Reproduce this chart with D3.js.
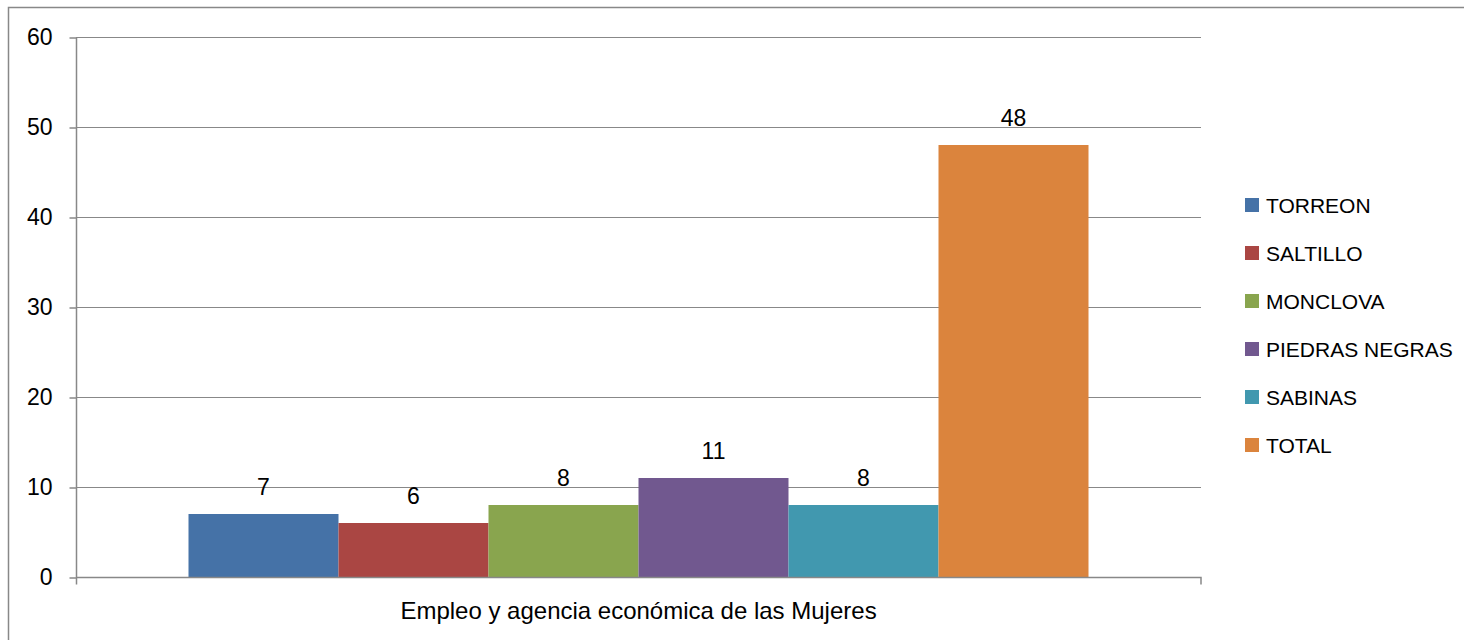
<!DOCTYPE html>
<html>
<head>
<meta charset="utf-8">
<script src="https://cdn.jsdelivr.net/npm/d3@7"></script>
<style>
  body { margin: 0; background: #fff; }
  text { font-family: "Liberation Sans", Arial, sans-serif; fill: #000; }
</style>
</head>
<body>
<div id="chart"></div>
<script>
// chart data
var category = "Empleo y agencia económica de las Mujeres";
var seriesNames = ["TORREON", "SALTILLO", "MONCLOVA", "PIEDRAS NEGRAS", "SABINAS", "TOTAL"];
var seriesValues = [7, 6, 8, 11, 8, 48];
var seriesColors = ["#4572A7", "#AA4643", "#89A54E", "#71588F", "#4198AF", "#DB843D"];
var yTicks = [0, 10, 20, 30, 40, 50, 60];

var width = 1464, height = 640;
var plot = { left: 76, right: 1201, top: 37, bottom: 577 };

var svg = d3.select("#chart").append("svg")
            .attr("width", width)
            .attr("height", height);

// outer frame (runs off the right/bottom of the picture)
svg.append("rect")
   .attr("x", 8.5).attr("y", 7.5)
   .attr("width", 1600).attr("height", 800)
   .attr("fill", "none")
   .attr("stroke", "#888")
   .attr("stroke-width", 1.5);

var y = d3.scaleLinear().domain([0, 60]).range([plot.bottom, plot.top]);

var x0 = d3.scaleBand()
           .domain([category])
           .range([plot.left, plot.right])
           .paddingOuter(0.125);

var x1 = d3.scaleBand()
           .domain(seriesNames)
           .range([0, x0.bandwidth()]);

// gridlines
svg.selectAll("line.grid")
   .data(yTicks.filter(function(d) { return d > 0; }))
   .enter()
   .append("line")
   .attr("class", "grid")
   .attr("x1", plot.left).attr("x2", plot.right)
   .attr("y1", function(d) { return Math.round(y(d)) + 0.5; })
   .attr("y2", function(d) { return Math.round(y(d)) + 0.5; })
   .attr("stroke", "#888")
   .attr("stroke-width", 1.2);

// bars
var rows = seriesNames.map(function(name, i) {
  return { name: name, value: seriesValues[i], color: seriesColors[i] };
});

svg.selectAll("rect.bar")
   .data(rows)
   .enter()
   .append("rect")
   .attr("class", "bar")
   .attr("x", function(d) { return x0(category) + x1(d.name); })
   .attr("width", x1.bandwidth())
   .attr("y", function(d) { return y(d.value); })
   .attr("height", function(d) { return y(0) - y(d.value); })
   .attr("fill", function(d) { return d.color; });

// value labels
svg.selectAll("text.value")
   .data(rows)
   .enter()
   .append("text")
   .attr("class", "value")
   .attr("x", function(d) { return x0(category) + x1(d.name) + x1.bandwidth() / 2; })
   .attr("y", function(d) { return y(d.value) - 19; })
   .attr("text-anchor", "middle")
   .style("font-size", "23px")
   .text(function(d) { return d.value; });

// y axis
var yAxis = d3.axisLeft(y).tickValues(yTicks).tickSize(7).tickPadding(17);
var gy = svg.append("g")
            .attr("transform", "translate(" + (plot.left + 0.5) + ",0.5)")
            .call(yAxis);
gy.select(".domain").attr("stroke", "#888").attr("stroke-width", 1.5)
  .attr("d", "M0," + (plot.top) + "V" + (plot.bottom + 7));
gy.selectAll(".tick line").attr("stroke", "#888").attr("stroke-width", 1.5);
gy.selectAll(".tick text")
  .style("font-family", "'Liberation Sans', Arial, sans-serif")
  .style("font-size", "23px")
  .attr("fill", "#000");

// x axis
var xAxis = d3.axisBottom(x0).tickSize(0).tickPadding(24);
var gx = svg.append("g")
            .attr("transform", "translate(0," + (plot.bottom + 0.5) + ")")
            .call(xAxis);
gx.select(".domain").attr("stroke", "#888").attr("stroke-width", 1.5)
  .attr("d", "M" + plot.left + ",0H" + plot.right + "V7");
gx.selectAll(".tick text")
  .style("font-family", "'Liberation Sans', Arial, sans-serif")
  .style("font-size", "24px")
  .attr("fill", "#000");

// legend
var legend = svg.selectAll("g.legend")
                .data(rows)
                .enter()
                .append("g")
                .attr("class", "legend")
                .attr("transform", function(d, i) {
                  return "translate(1245," + (205 + i * 48) + ")";
                });

legend.append("rect")
      .attr("x", 0).attr("y", -7)
      .attr("width", 14).attr("height", 14)
      .attr("fill", function(d) { return d.color; });

legend.append("text")
      .attr("x", 21)
      .attr("y", 8)
      .style("font-size", "21px")
      .text(function(d) { return d.name; });
</script>
</body>
</html>
